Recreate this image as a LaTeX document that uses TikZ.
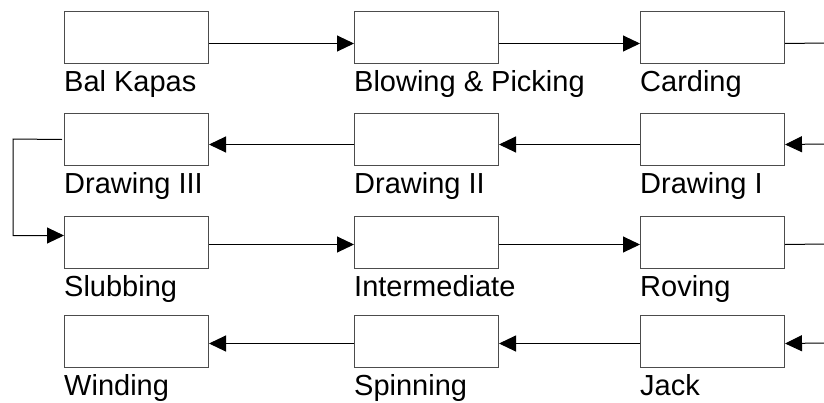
\documentclass[tikz,border=0pt]{standalone}
\usepackage{fontspec}
\setmainfont{Liberation Sans}
\usetikzlibrary{arrows.meta}
\begin{document}
\begin{tikzpicture}[x=1pt,y=-1pt,
  stepbox/.style={draw=black!70,line width=1pt,minimum width=144pt,minimum height=52pt,inner sep=0pt,anchor=north west,fill=white},
  lbl/.style={anchor=base west,inner sep=0pt,font=\fontsize{29}{33}\selectfont},
  flow/.style={line width=1pt,-{Triangle[length=17pt,width=16pt]}},
  plain/.style={line width=1pt}]
\useasboundingbox (0,0) rectangle (824,402);
% row 1
\node[stepbox] (a1) at (64,11) {};
\node[stepbox] (a2) at (354,11) {};
\node[stepbox] (a3) at (640,11) {};
% row 2
\node[stepbox] (b1) at (64,113) {};
\node[stepbox] (b2) at (354,113) {};
\node[stepbox] (b3) at (640,113) {};
% row 3
\node[stepbox] (c1) at (64,216) {};
\node[stepbox] (c2) at (354,216) {};
\node[stepbox] (c3) at (640,216) {};
% row 4
\node[stepbox] (d1) at (64,315) {};
\node[stepbox] (d2) at (354,315) {};
\node[stepbox] (d3) at (640,315) {};
% labels
\node[lbl] (la1) at (64,91) {Bal Kapas};
\node[lbl] (la2) at (354,91) {Blowing \& Picking};
\node[lbl] (la3) at (640,91) {Carding};
\node[lbl] (lb1) at (64,193) {Drawing III};
\node[lbl] (lb2) at (354,193) {Drawing II};
\node[lbl] (lb3) at (640,193) {Drawing I};
\node[lbl] (lc1) at (64,296) {Slubbing};
\node[lbl] (lc2) at (354,296) {Intermediate};
\node[lbl] (lc3) at (640,296) {Roving};
\node[lbl] (ld1) at (64,395) {Winding};
\node[lbl] (ld2) at (354,395) {Spinning};
\node[lbl] (ld3) at (640,395) {Jack};
% edge coordinates
\coordinate (e1) at (824,43);
\coordinate (e2) at (824,144);
\coordinate (e3) at (824,244);
\coordinate (e4) at (824,343);
\coordinate (k) at (13,139);
% connectors row 1
\draw[flow] ([yshift=-6pt]a1.east) -- ([yshift=-6pt]a2.west);
\draw[flow] ([yshift=-6pt]a2.east) -- ([yshift=-6pt]a3.west);
\draw[plain] ([yshift=-6pt]a3.east) -- (e1);
% row 2
\draw[flow] (e2) -- ([yshift=-5pt]b3.east);
\draw[flow] ([yshift=-5pt]b3.west) -- ([yshift=-5pt]b2.east);
\draw[flow] ([yshift=-5pt]b2.west) -- ([yshift=-5pt]b1.east);
% loop
\draw[flow] ([xshift=-2pt]b1.west) -- (k) |- ([yshift=7pt]c1.west);
% row 3
\draw[flow] ([yshift=-2pt]c1.east) -- ([yshift=-2pt]c2.west);
\draw[flow] ([yshift=-2pt]c2.east) -- ([yshift=-2pt]c3.west);
\draw[plain] ([yshift=-2pt]c3.east) -- (e3);
% row 4
\draw[flow] (e4) -- ([yshift=-2pt]d3.east);
\draw[flow] ([yshift=-2pt]d3.west) -- ([yshift=-2pt]d2.east);
\draw[flow] ([yshift=-2pt]d2.west) -- ([yshift=-2pt]d1.east);
\end{tikzpicture}
\end{document}
